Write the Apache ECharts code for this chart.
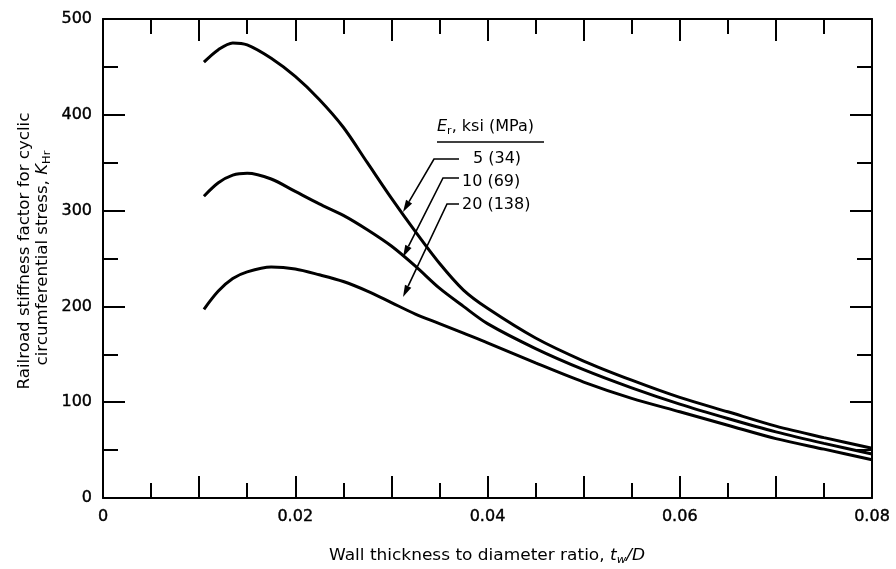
<!DOCTYPE html>
<html>
<head>
<meta charset="utf-8">
<script src="https://cdn.jsdelivr.net/npm/echarts@6/dist/echarts.min.js"></script>
<style>
html,body{margin:0;padding:0;background:#fff;}
#main{width:896px;height:569px;}
</style>
</head>
<body>
<div id="main"></div>
<script>
// wall thickness / diameter ratio
var xVals = [0.0105, 0.012, 0.0135, 0.015, 0.0175, 0.02, 0.0225, 0.025, 0.0275, 0.03, 0.0325, 0.035, 0.0375, 0.04, 0.045, 0.05, 0.055, 0.06, 0.065, 0.07, 0.075, 0.08];
// K_Hr for each Er
var k5  = [455, 468, 475, 473, 459, 440, 416, 387, 350, 313, 278, 245, 217, 198, 167, 143, 123, 105, 90, 75, 63, 52];
var k10 = [315, 329, 337, 339, 333, 320, 307, 295, 280, 263, 242, 219, 200, 182, 156, 134, 115, 98, 83, 69, 57, 46];
var k20 = [197, 216, 229, 236, 241, 239, 233, 226, 216, 204, 192, 182, 172, 162, 141, 121, 104, 90, 76, 62, 51, 40];
var seriesNames = ['5 (34)', '10 (69)', '20 (138)'];

var FONT = 'DejaVu Sans';
var INK = '#000';
var BW = 0.4; // slight embolden for tick labels, scan looks heavy

function pairs(ys){
    var out = [];
    for(var i=0;i<xVals.length;i++) out.push([xVals[i], ys[i]]);
    return out;
}

function xFmt(v){
    var n = Math.round(v*100);
    if(n%2!==0) return '';
    return n===0 ? '0' : v.toFixed(2);
}

function axisBase(){
    return {
        axisLine:{show:true, onZero:false, lineStyle:{color:INK, width:2}},
        axisTick:{show:true, inside:true, length:22, lineStyle:{color:INK, width:2}},
        minorTick:{show:true, splitNumber:2, length:15, lineStyle:{color:INK, width:2}},
        splitLine:{show:false},
        minorSplitLine:{show:false}
    };
}

var lblStyle = {color:INK, fontFamily:FONT, fontSize:16, textBorderColor:INK, textBorderWidth:BW};

var xBottom = Object.assign(axisBase(), {
    type:'value', position:'bottom', min:0, max:0.08, interval:0.01,
    axisLabel:Object.assign({formatter:xFmt, margin:11}, lblStyle)
});
var xTop = Object.assign(axisBase(), {
    type:'value', position:'top', min:0, max:0.08, interval:0.01,
    axisLabel:{show:false}
});
var yLeft = Object.assign(axisBase(), {
    type:'value', position:'left', min:0, max:500, interval:100,
    axisLabel:Object.assign({margin:11}, lblStyle)
});
var yRight = Object.assign(axisBase(), {
    type:'value', position:'right', min:0, max:500, interval:100,
    axisLabel:{show:false}
});

var allK = [k5, k10, k20];
var series = [];
for(var s=0;s<allK.length;s++){
    series.push({
        name: seriesNames[s],
        type:'line',
        xAxisIndex:0, yAxisIndex:0,
        data: pairs(allK[s]),
        showSymbol:false,
        smooth:0.3,
        lineStyle:{color:INK, width:3},
        silent:true
    });
}

// leader line with arrow head, pixel coords
function leader(hx, y, ex, tx, ty){
    var dx = tx-ex, dy = ty-y;
    var len = Math.sqrt(dx*dx+dy*dy);
    var ux = dx/len, uy = dy/len;
    var al = 12, aw = 3.5;
    var bx = tx-ux*al, by = ty-uy*al;
    return [
        {type:'polyline', silent:true, shape:{points:[[hx,y],[ex,y],[bx,by]]}, style:{stroke:INK, lineWidth:1.6, fill:null}},
        {type:'polygon', silent:true, shape:{points:[[tx,ty],[bx-uy*aw,by+ux*aw],[bx+uy*aw,by-ux*aw]]}, style:{fill:INK}}
    ];
}

var F16 = '16px "'+FONT+'"';
var italic = {fontStyle:'italic', fontFamily:FONT, fontSize:16, fill:INK};
var sub = {fontFamily:FONT, fontSize:11, fill:INK, padding:[9,0,0,0]};
var subI = Object.assign({}, sub, {fontStyle:'italic'});
function txt(x, y, text, extra, rich){
    var st = {text:text, fill:INK, font:F16, verticalAlign:'middle'};
    if(rich) st.rich = rich;
    Object.assign(st, extra || {});
    return {type:'text', silent:true, x:x, y:y, style:st};
}

var xTitle = txt(487, 556, 'Wall thickness to diameter ratio, {i|t}{s|w}{i|/D}', {align:'center'}, {i:italic, s:subI});
xTitle.scaleX = 1.06;
var yTitle1 = txt(25, 251, 'Railroad stiffness factor for cyclic', {align:'center'});
yTitle1.rotation = Math.PI/2; yTitle1.scaleX = 1.04;
var yTitle2 = txt(43, 258, 'circumferential stress, {i|K}{s|Hr}', {align:'center'}, {i:italic, s:sub});
yTitle2.rotation = Math.PI/2; yTitle2.scaleX = 1.04;

var graphics = [
    xTitle, yTitle1, yTitle2,
    txt(437, 127, '{i|E}{s|r}, ksi (MPa)', {align:'left'}, {i:italic, s:sub}),
    {type:'line', silent:true, shape:{x1:437, y1:142, x2:544, y2:142}, style:{stroke:INK, lineWidth:1.5}},
    txt(473, 159, seriesNames[0]),
    txt(462, 182, seriesNames[1]),
    txt(462, 205, seriesNames[2])
];
graphics = graphics.concat(leader(459, 159, 434, 403, 212));
graphics = graphics.concat(leader(459, 178, 443, 403, 257));
graphics = graphics.concat(leader(459, 204, 447, 403, 297));

var myChart = echarts.init(document.getElementById('main'), null, {renderer:'canvas'});
myChart.setOption({
    backgroundColor:'#fff',
    animation:false,
    grid:{left:103, right:24, top:19, bottom:71, containLabel:false},
    xAxis:[xBottom, xTop],
    yAxis:[yLeft, yRight],
    series:series,
    graphic:graphics
});
</script>
</body>
</html>
